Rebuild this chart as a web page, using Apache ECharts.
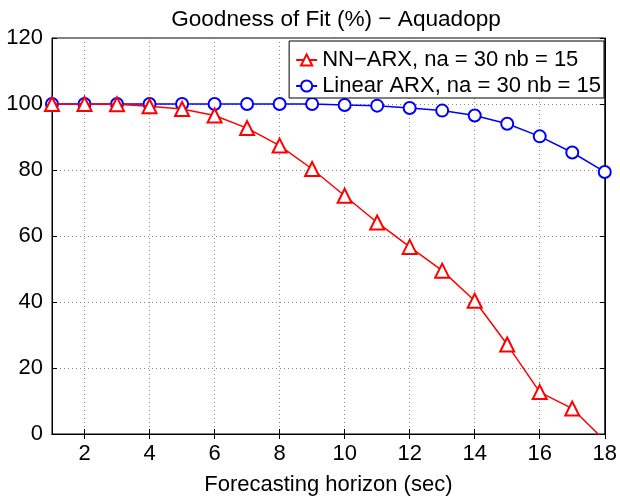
<!DOCTYPE html>
<html>
<head>
<meta charset="utf-8">
<script src="https://cdn.jsdelivr.net/npm/echarts@6/dist/echarts.min.js"></script>
<style>html,body{margin:0;padding:0;background:#fff}#c{width:620px;height:501px}</style>
</head>
<body>
<div id="c"></div>
<script>
const horizon = [1,2,3,4,5,6,7,8,9,10,11,12,13,14,15,16,17,18];
const nnArx = [100, 100, 99.9, 99.3, 98.5, 96.5, 92.7, 87.4, 80.3, 72.2, 64.1, 56.7, 49.5, 40.4, 27.1, 12.7, 7.7, -2];
const linearArx = [100, 100, 100, 100, 100, 100, 100, 100, 100, 99.7, 99.5, 98.8, 98.0, 96.5, 94.0, 90.2, 85.3, 79.4];
const xTicks = [2,4,6,8,10,12,14,16,18];
const seriesNames = ['NN\u2212ARX, na = 30 nb = 15', 'Linear ARX, na = 30 nb = 15'];
const titleText = 'Goodness of Fit (%) \u2212 Aquadopp';
const xName = 'Forecasting horizon (sec)';

const font = 'Liberation Sans, Arial, Helvetica, sans-serif';
const chart = echarts.init(document.getElementById('c'), null, {renderer: 'canvas'});
const gridLine = {show: true, lineStyle: {color: '#888', type: [1, 3], width: 1}};
chart.setOption({
  backgroundColor: '#fff',
  animation: false,
  title: {text: titleText, left: 331, textAlign: 'center', top: 3,
    textStyle: {fontFamily: font, fontSize: 22.6, fontWeight: 'normal', color: '#000'}},
  grid: {left: 52, right: 14, top: 38, bottom: 67, show: true, borderColor: '#000', borderWidth: 1, backgroundColor: '#fff'},
  legend: {
    orient: 'vertical', right: 16, top: 41,
    backgroundColor: '#fff', borderColor: '#000', borderWidth: 1, borderRadius: 0,
    padding: [8, 3, 1, 6], itemGap: 4, itemWidth: 21, itemHeight: 14,
    textStyle: {fontFamily: font, fontSize: 22, lineHeight: 22, color: '#000'},
    data: seriesNames
  },
  xAxis: [{
    type: 'value', min: 1, max: 18, position: 'bottom',
    name: xName, nameLocation: 'middle', nameGap: 40,
    nameTextStyle: {fontFamily: font, fontSize: 22, color: '#000'},
    axisLine: {show: true, lineStyle: {color: '#000'}},
    axisTick: {show: true, inside: true, length: 5, customValues: xTicks, lineStyle: {color: '#000'}},
    axisLabel: {customValues: xTicks, fontFamily: font, fontSize: 22, color: '#000', margin: 9},
    splitLine: gridLine
  }, {
    type: 'value', min: 1, max: 18, position: 'top',
    axisLine: {show: true, lineStyle: {color: '#000'}},
    axisTick: {show: true, inside: true, length: 5, customValues: xTicks, lineStyle: {color: '#000'}},
    axisLabel: {show: false, customValues: xTicks},
    splitLine: {show: false}
  }],
  yAxis: [{
    type: 'value', min: 0, max: 120, interval: 20, position: 'left',
    axisLine: {show: true, lineStyle: {color: '#000'}},
    axisTick: {show: true, inside: true, length: 5, lineStyle: {color: '#000'}},
    axisLabel: {fontFamily: font, fontSize: 22, color: '#000', margin: 9},
    splitLine: gridLine
  }, {
    type: 'value', min: 0, max: 120, interval: 20, position: 'right',
    axisLine: {show: true, lineStyle: {color: '#000'}},
    axisTick: {show: true, inside: true, length: 5, lineStyle: {color: '#000'}},
    axisLabel: {show: false},
    splitLine: {show: false}
  }],
  series: [{
    name: seriesNames[0], type: 'line', xAxisIndex: 0, yAxisIndex: 0,
    data: horizon.map((x, i) => [x, nnArx[i]]),
    symbol: 'emptyTriangle', symbolSize: 14, clip: true,
    lineStyle: {color: '#ff0000', width: 1.5},
    itemStyle: {color: '#ff0000', borderColor: '#ff0000', borderWidth: 1.5},
    z: 3
  }, {
    name: seriesNames[1], type: 'line', xAxisIndex: 0, yAxisIndex: 0,
    data: horizon.map((x, i) => [x, linearArx[i]]),
    symbol: 'emptyCircle', symbolSize: 12, clip: true,
    lineStyle: {color: '#0000ff', width: 1.5},
    itemStyle: {color: '#0000ff', borderColor: '#0000ff', borderWidth: 1.5},
    z: 2
  }]
});
</script>
</body>
</html>
